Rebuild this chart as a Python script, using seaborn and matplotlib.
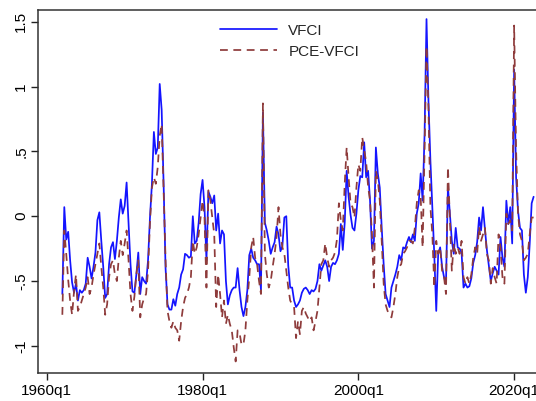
import matplotlib
matplotlib.use("Agg")
import matplotlib.pyplot as plt
import seaborn as sns
import pandas as pd

# quarterly data, 1962q1 onward (Stata %tq: 1960q1 = 0)
start_q = 8
vfci = [
    -0.60, 0.07, -0.18, -0.12, -0.34, -0.51, -0.59, -0.52, -0.65, -0.57,
    -0.59, -0.57, -0.52, -0.32, -0.39, -0.48, -0.39, -0.28, -0.03, 0.03,
    -0.19, -0.39, -0.63, -0.60, -0.37, -0.24, -0.20, -0.33, -0.19, -0.01,
    0.13, 0.02, 0.08, 0.26, -0.06, -0.37, -0.58, -0.59, -0.45, -0.28,
    -0.60, -0.47, -0.50, -0.52, -0.34, -0.01, 0.25, 0.65, 0.48, 0.53,
    1.02, 0.82, 0.25, -0.40, -0.68, -0.72, -0.72, -0.64, -0.69, -0.60,
    -0.55, -0.45, -0.41, -0.29, -0.30, -0.32, -0.31, 0.00, -0.21, -0.19,
    -0.05, 0.17, 0.28, 0.07, -0.34, 0.19, 0.15, 0.10, 0.16, -0.11,
    0.02, -0.21, -0.11, -0.14, -0.50, -0.68, -0.61, -0.57, -0.55, -0.55,
    -0.40, -0.57, -0.70, -0.77, -0.70, -0.57, -0.30, -0.25, -0.32, -0.34,
    -0.37, -0.37, -0.57, 0.80, -0.05, -0.11, -0.19, -0.29, -0.24, -0.20,
    -0.08, -0.14, -0.27, -0.23, -0.01, 0.00, -0.38, -0.55, -0.55, -0.65,
    -0.70, -0.68, -0.65, -0.59, -0.56, -0.55, -0.57, -0.60, -0.57, -0.58,
    -0.56, -0.50, -0.37, -0.42, -0.38, -0.34, -0.39, -0.50, -0.39, -0.36,
    -0.37, -0.34, -0.29, -0.06, -0.26, -0.05, 0.35, 0.15, 0.01, -0.09,
    -0.11, 0.02, 0.20, 0.31, 0.30, 0.57, 0.30, 0.35, 0.12, -0.25,
    -0.19, 0.53, 0.33, 0.22, -0.09, -0.37, -0.60, -0.65, -0.70, -0.55,
    -0.50, -0.45, -0.39, -0.30, -0.34, -0.24, -0.25, -0.20, -0.16, -0.20,
    -0.14, -0.19, 0.02, 0.10, 0.33, 0.12, 0.63, 1.52, 0.89, 0.43,
    0.07, -0.30, -0.73, -0.29, -0.24, -0.39, -0.47, -0.52, 0.23, 0.02,
    -0.19, -0.29, -0.09, -0.24, -0.25, -0.28, -0.55, -0.52, -0.55, -0.54,
    -0.48, -0.36, -0.30, -0.20, -0.01, -0.11, 0.07, -0.10, -0.26, -0.38,
    -0.50, -0.44, -0.39, -0.42, -0.45, -0.16, -0.32, -0.39, 0.12, -0.06,
    0.07, -0.21, 1.13, 0.30, 0.04, -0.09, -0.11, -0.45, -0.59, -0.47,
    -0.21, 0.10, 0.15,
]
pce_vfci = [
    -0.76, -0.11, -0.29, -0.49, -0.65, -0.76, -0.58, -0.45, -0.73, -0.70,
    -0.65, -0.60, -0.55, -0.47, -0.60, -0.55, -0.45, -0.37, -0.29, -0.21,
    -0.39, -0.55, -0.76, -0.68, -0.47, -0.37, -0.34, -0.45, -0.50, -0.32,
    -0.19, -0.30, -0.21, -0.11, -0.34, -0.60, -0.73, -0.62, -0.45, -0.34,
    -0.78, -0.68, -0.63, -0.60, -0.42, -0.05, 0.22, 0.30, 0.25, 0.38,
    0.62, 0.71, 0.20, -0.34, -0.73, -0.81, -0.86, -0.81, -0.86, -0.88,
    -0.96, -0.81, -0.70, -0.63, -0.60, -0.55, -0.47, -0.19, -0.29, -0.24,
    -0.14, -0.01, 0.12, -0.01, -0.55, 0.20, 0.12, -0.01, -0.14, -0.70,
    -0.45, -0.60, -0.78, -0.65, -0.83, -0.76, -0.83, -0.88, -1.01, -1.12,
    -0.88, -0.90, -0.99, -0.99, -0.88, -0.65, -0.47, -0.24, -0.16, -0.32,
    -0.37, -0.50, -0.60, 0.87, -0.29, -0.45, -0.55, -0.50, -0.39, -0.29,
    -0.16, 0.07, -0.14, -0.24, -0.29, -0.42, -0.55, -0.65, -0.68, -0.70,
    -0.94, -0.81, -0.91, -0.73, -0.70, -0.75, -0.78, -0.81, -0.78, -0.88,
    -0.81, -0.73, -0.55, -0.37, -0.34, -0.21, -0.32, -0.39, -0.34, -0.32,
    -0.28, -0.18, 0.10, -0.03, -0.11, 0.25, 0.53, 0.30, 0.10, 0.07,
    -0.01, 0.22, 0.40, 0.35, 0.61, 0.51, 0.42, 0.23, 0.12, -0.14,
    -0.55, 0.35, 0.28, 0.12, -0.19, -0.52, -0.68, -0.73, -0.76, -0.78,
    -0.70, -0.60, -0.47, -0.39, -0.37, -0.29, -0.27, -0.24, -0.19, -0.19,
    -0.21, -0.09, 0.10, 0.20, 0.15, -0.24, 0.51, 1.31, 0.84, 0.07,
    -0.14, -0.55, -0.19, -0.29, -0.24, -0.42, -0.47, -0.60, 0.38, -0.01,
    -0.42, -0.21, -0.29, -0.24, -0.29, -0.19, -0.47, -0.52, -0.47, -0.52,
    -0.45, -0.32, -0.24, -0.29, -0.08, -0.19, -0.14, -0.09, -0.29, -0.34,
    -0.52, -0.40, -0.47, -0.52, -0.14, -0.24, -0.47, -0.52, 0.02, -0.06,
    -0.03, -0.11, 1.47, 0.51, 0.02, -0.14, -0.19, -0.34, -0.32, -0.29,
    -0.14, -0.01, -0.01,
]
series_names = ["VFCI", "PCE-VFCI"]
tick_quarters = [0, 80, 160, 240]
tick_labels = ["1960q1", "1980q1", "2000q1", "2020q1"]
y_ticks = [-1, -0.5, 0, 0.5, 1, 1.5]
y_labels = ["-1", "-.5", "0", ".5", "1", "1.5"]

rows = []
for name, vals in zip(series_names, [vfci, pce_vfci]):
    for i, v in enumerate(vals):
        rows.append({"date": start_q + i, "value": v, "series": name})
df = pd.DataFrame(rows)

sns.set_style("white")
plt.rcParams["font.family"] = ["Liberation Sans", "DejaVu Sans"]

fig = plt.figure(figsize=(5.36, 4.01), dpi=100)
ax = fig.add_axes([38 / 536, 1 - 372.5 / 401, 1.005 - 38 / 536, (372.5 - 10) / 401])

sns.lineplot(
    data=df, x="date", y="value", hue="series", style="series",
    hue_order=series_names, style_order=series_names,
    palette={"VFCI": "#1414ff", "PCE-VFCI": "#8e3b3b"},
    dashes={"VFCI": "", "PCE-VFCI": (4.5, 3.2)},
    linewidth=1.25, ax=ax, legend=True,
)

ax.set_xlim(-4.5, 252.6)
ax.set_ylim(-1.205, 1.59)
ax.set_xticks(tick_quarters)
ax.set_xticklabels(tick_labels, fontsize=11)
ax.set_yticks(y_ticks)
ax.set_yticklabels(y_labels, fontsize=11, rotation=90, va="center")
ax.set_xlabel("")
ax.set_ylabel("")
ax.tick_params(axis="both", direction="out", length=5, width=1, color="#222222",
               labelcolor="black", pad=3, bottom=True, left=True)
ax.tick_params(axis="y", pad=2)
for s in ax.spines.values():
    s.set_color("#333333")
    s.set_linewidth(1.1)
ax.spines["right"].set_visible(False)

leg = ax.legend(loc="upper center", bbox_to_anchor=(0.503, 1.0), frameon=False,
                fontsize=11, handlelength=3.7, handletextpad=0.75, labelspacing=0.45)

fig.savefig("out.png", dpi=100)
